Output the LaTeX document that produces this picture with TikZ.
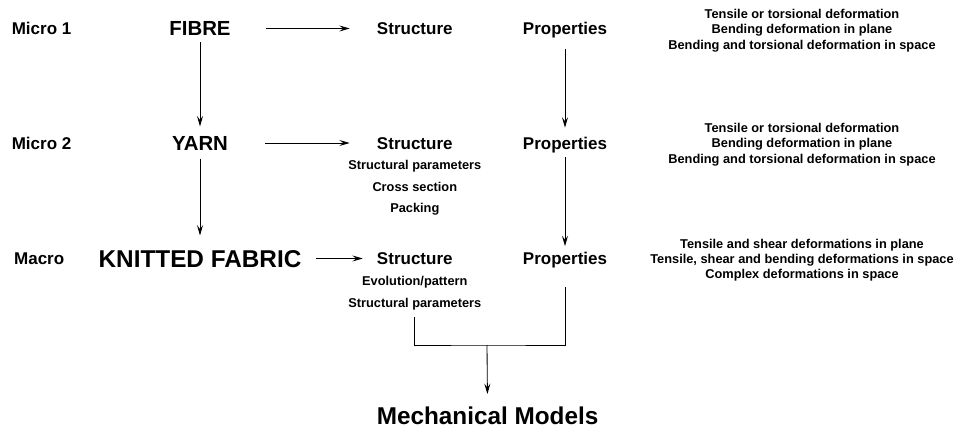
\documentclass[tikz,border=0pt]{standalone}
\usepackage{fontspec}
\setmainfont{Liberation Sans}
\usetikzlibrary{arrows.meta}

\begin{document}
\begin{tikzpicture}[
    labelstyle/.style={inner sep=0pt, font=\bfseries\fontsize{12.1}{14}\selectfont, text height=8.7pt, text depth=0pt},
    materialstyle/.style={inner sep=0pt, font=\bfseries\fontsize{14.5}{17}\selectfont, text height=10.4pt, text depth=0pt},
    titlestyle/.style={inner sep=0pt, font=\bfseries\fontsize{17.3}{20}\selectfont, text height=12.4pt, text depth=0pt},
    itemstyle/.style={inner sep=0pt, anchor=north, align=center, font=\bfseries\fontsize{9.1}{15.3}\selectfont},
    notestyle/.style={inner sep=0pt, anchor=north, align=center, font=\bfseries\fontsize{9.1}{10.7}\selectfont},
    arrowstyle/.style={-{Stealth[length=2.6mm, width=1.5mm, inset=1mm]}, line width=0.6pt},
    linestyle/.style={line width=0.6pt}
]
    \useasboundingbox (0,0) rectangle (23.9,-10.8);

    % levels
    \node[labelstyle] (micro1) at (1.04,-0.7125) {Micro 1};
    \node[labelstyle] (micro2) at (1.04,-3.575) {Micro 2};
    \node[labelstyle] (macro) at (0.98,-6.4625) {Macro};

    \node[materialstyle] (fibre) at (5,-0.7125) {FIBRE};
    \node[materialstyle] (yarn) at (5,-3.575) {YARN};
    \node[titlestyle] (fabric) at (5,-6.4625) {KNITTED FABRIC};

    \node[labelstyle] (struct1) at (10.37,-0.7125) {Structure};
    \node[labelstyle] (struct2) at (10.37,-3.575) {Structure};
    \node[labelstyle] (struct3) at (10.37,-6.4625) {Structure};
    \node[itemstyle] (itemsA) at (10.37,-4.01) {Structural parameters\\Cross section\\Packing};
    \node[itemstyle] (itemsB) at (10.37,-6.91) {Evolution/pattern\\Structural parameters};

    \node[labelstyle] (prop1) at (14.125,-0.7125) {Properties};
    \node[labelstyle] (prop2) at (14.125,-3.575) {Properties};
    \node[labelstyle] (prop3) at (14.125,-6.4625) {Properties};

    \node[notestyle] (note1) at (20.05,-0.235) {Tensile or torsional deformation\\Bending deformation in plane\\Bending and torsional deformation in space};
    \node[notestyle] (note2) at (20.05,-3.085) {Tensile or torsional deformation\\Bending deformation in plane\\Bending and torsional deformation in space};
    \node[notestyle] (note3) at (20.05,-5.97) {Tensile and shear deformations in plane\\Tensile, shear and bending deformations in space\\Complex deformations in space};

    \coordinate (join) at (12.175,-8.625);
    \node[titlestyle] (models) at (12.19,-10.4) {Mechanical Models};

    \draw[arrowstyle, shorten <=0.875cm, shorten >=0.675cm] (fibre) -- (struct1);
    \draw[arrowstyle, shorten <=0.925cm, shorten >=0.675cm] (yarn) -- (struct2);
    \draw[arrowstyle, shorten <=0.35cm, shorten >=0.35cm] (fabric) -- (struct3);
    \draw[arrowstyle, shorten <=0.15cm, shorten >=0.225cm] (fibre) -- (yarn);
    \draw[arrowstyle, shorten <=0.2cm, shorten >=0.35cm] (yarn) -- (fabric);
    \draw[arrowstyle, shorten <=0.35cm, shorten >=0.225cm] (prop1) -- (prop2);
    \draw[arrowstyle, shorten <=0.2cm, shorten >=0.15cm] (prop2) -- (prop3);
    \draw[linestyle, shorten <=0.175cm, shorten >=0.55cm] (itemsB.south) |- (join) -| (prop3.south);
    \draw[arrowstyle, shorten >=0.325cm] (join) -- (models);
\end{tikzpicture}
\end{document}
